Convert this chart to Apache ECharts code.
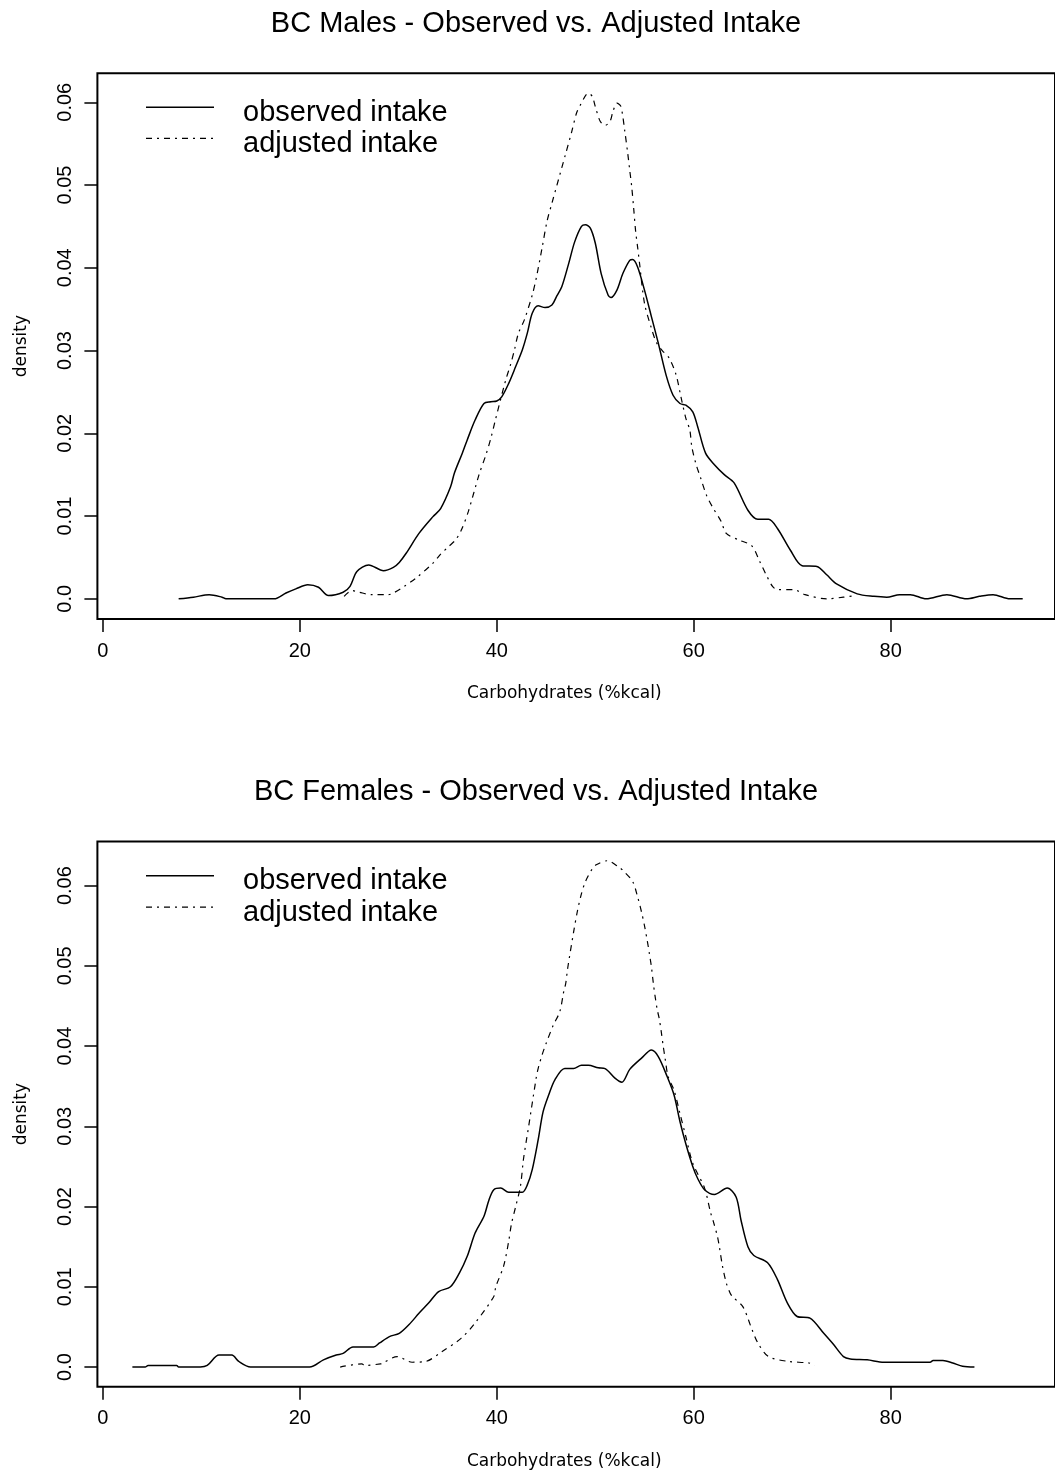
<!DOCTYPE html>
<html><head><meta charset="utf-8">
<script src="https://cdn.jsdelivr.net/npm/echarts@6/dist/echarts.min.js"></script>
<style>html,body{margin:0;padding:0;background:#fff}#c{width:1055px;height:1474px}</style>
</head><body><div id="c"></div>
<script>
const seriesNames = ['observed intake', 'adjusted intake'];
const titles = ['BC Males - Observed vs. Adjusted Intake', 'BC Females - Observed vs. Adjusted Intake'];
const xAxisTitle = 'Carbohydrates (%kcal)';
const yAxisTitle = 'density';
const xTicks = [0, 20, 40, 60, 80];
const yTicks = [0, 0.01, 0.02, 0.03, 0.04, 0.05, 0.06];

const maleObserved = [
[7.7,0],[9.2,0.0002],[10.8,0.0005],[12.1,0.0002],[12.5,0],[17.4,0],[18.6,0.0007],[19.6,0.0012],
[20.8,0.0017],[21.9,0.0014],[22.9,0.0004],[24.4,0.0008],[25.1,0.0015],[25.8,0.0033],[27.0,0.0041],
[28.5,0.0034],[29.5,0.0038],[30.1,0.0044],[30.8,0.0055],[32.1,0.0079],[33.5,0.0099],[34.3,0.0109],
[35.3,0.0135],[35.7,0.0152],[36.5,0.0176],[37.0,0.0192],[37.8,0.0216],[38.7,0.0236],[39.4,0.0238],
[40.0,0.0239],[40.5,0.0244],[41.2,0.0260],[41.9,0.0280],[42.6,0.0301],[43.1,0.0321],[43.6,0.0345],
[44.2,0.0354],[44.9,0.0352],[45.6,0.0355],[46.1,0.0366],[46.6,0.0377],[47.3,0.0405],[47.9,0.0431],
[48.6,0.0450],[49.0,0.0452],[49.5,0.0448],[50.0,0.0430],[50.6,0.0393],[51.3,0.0367],[51.6,0.0364],
[52.2,0.0373],[52.8,0.0393],[53.5,0.0409],[53.8,0.0410],[54.3,0.0401],[55.0,0.0373],[55.7,0.0341],
[56.4,0.0309],[57.2,0.0270],[57.9,0.0246],[58.6,0.0236],[59.2,0.0234],[59.9,0.0226],[60.4,0.0208],
[61.2,0.0176],[62.1,0.0162],[63.1,0.0150],[64.1,0.0140],[65.5,0.0107],[66.5,0.0096],[67.6,0.0096],
[68.5,0.0085],[69.8,0.0059],[71.0,0.0040],[72.5,0.0039],[73.5,0.0029],[74.5,0.0018],[76.6,0.0006],
[78.3,0.0003],[79.6,0.0002],[80.9,0.0005],[82.0,0.0005],[83.6,0],[85.7,0.0005],[87.7,0],
[89.0,0.0003],[90.4,0.0005],[92.1,0],[93.4,0]
];
const maleAdjusted = [
[24.5,0.0003],[25.3,0.0010],[26.0,0.0008],[27.3,0.0005],[29.0,0.0005],[29.5,0.0007],[30.6,0.0015],
[31.9,0.0026],[33.6,0.0044],[34.3,0.0054],[35.1,0.0063],[35.8,0.0071],[36.4,0.0083],[37.1,0.0105],
[38.2,0.0150],[38.9,0.0174],[39.4,0.0194],[39.9,0.0218],[40.9,0.0264],[41.4,0.0283],[41.8,0.0301],
[42.2,0.0321],[42.8,0.0337],[43.6,0.0367],[44.0,0.0387],[44.6,0.0424],[45.1,0.0456],[45.6,0.0478],
[47.0,0.0538],[47.6,0.0564],[48.1,0.0587],[48.5,0.0597],[49.3,0.0611],[49.7,0.0607],[50.0,0.0595],
[50.5,0.0577],[51.0,0.0572],[51.5,0.0577],[51.8,0.0589],[52.2,0.0599],[52.6,0.0595],[53.0,0.0565],
[53.3,0.0538],[53.5,0.0518],[53.7,0.0498],[53.9,0.0472],[54.1,0.0444],[54.3,0.0425],[54.5,0.0405],
[55.0,0.0357],[55.7,0.0327],[56.2,0.0310],[56.8,0.0300],[57.5,0.0291],[58.2,0.0271],[58.7,0.0244],
[59.2,0.0218],[59.6,0.0204],[59.8,0.0184],[60.2,0.0164],[60.7,0.0146],[61.3,0.0125],[61.9,0.0111],
[62.8,0.0093],[63.3,0.0079],[64.6,0.0071],[65.9,0.0064],[66.7,0.0045],[67.4,0.0028],[68.0,0.0015],
[68.5,0.0011],[70.2,0.0011],[71.3,0.0005],[73.5,0],[75.2,0.0002],[76.4,0.0004]
];
const femaleObserved = [
[3.0,0],[4.3,0],[4.6,0.0002],[7.5,0.0002],[7.7,0],[9.9,0],[10.6,0.0002],[11.8,0.0015],[13.1,0.0015],
[13.8,0.0007],[15.0,0],[21.0,0],[22.4,0.0009],[23.7,0.0015],[24.4,0.0017],[25.4,0.0025],[27.5,0.0025],
[28.1,0.0030],[29.1,0.0038],[30.1,0.0042],[31.1,0.0053],[32.1,0.0067],[33.1,0.0080],[34.1,0.0094],
[35.3,0.0100],[36.2,0.0117],[37.0,0.0138],[37.8,0.0167],[38.7,0.0188],[39.2,0.0208],[39.7,0.0221],
[40.4,0.0223],[41.2,0.0218],[42.6,0.0218],[43.1,0.0227],[43.6,0.0246],[44.2,0.0283],[44.7,0.0318],
[45.3,0.0340],[45.9,0.0358],[46.9,0.0372],[47.8,0.0372],[48.6,0.0376],[49.3,0.0376],[50.3,0.0373],
[51.0,0.0372],[52.0,0.0360],[52.7,0.0355],[53.5,0.0371],[54.7,0.0385],[55.7,0.0395],[56.4,0.0387],
[57.3,0.0362],[58.0,0.0339],[58.6,0.0306],[59.2,0.0278],[59.9,0.0250],[60.4,0.0235],[61.1,0.0221],
[62.1,0.0215],[63.4,0.0223],[64.3,0.0212],[64.8,0.0183],[65.5,0.0150],[66.1,0.0139],[67.5,0.0130],
[68.5,0.0109],[69.5,0.0080],[70.5,0.0063],[71.8,0.0061],[73.2,0.0042],[74.2,0.0028],[75.2,0.0013],
[75.9,0.0010],[77.6,0.0009],[79.3,0.0006],[84.0,0.0006],[84.3,0.0008],[85.3,0.0008],[86.3,0.0005],
[87.3,0.0001],[88.5,0]
];
const femaleAdjusted = [
[24.1,0],[26.3,0.0004],[26.6,0.0002],[28.2,0.0004],[28.4,0.0005],[29.9,0.0013],[31.4,0.0006],
[32.8,0.0007],[34.4,0.0019],[36.4,0.0036],[37.8,0.0055],[39.7,0.0088],[39.9,0.0100],[40.7,0.0126],
[41.2,0.0156],[41.5,0.0179],[41.9,0.0199],[42.4,0.0225],[42.7,0.0258],[43.0,0.0282],[43.2,0.0297],
[44.0,0.0360],[44.2,0.0372],[44.6,0.0389],[45.0,0.0403],[45.7,0.0425],[46.4,0.0443],[46.8,0.0468],
[47.0,0.0478],[47.2,0.0497],[47.8,0.0542],[48.2,0.0569],[48.6,0.0590],[49.0,0.0605],[49.7,0.0621],
[50.1,0.0626],[51.2,0.0631],[52.5,0.0622],[52.8,0.0619],[53.8,0.0605],[54.3,0.0586],[54.7,0.0567],
[55.0,0.0550],[55.3,0.0530],[55.5,0.0515],[55.7,0.0499],[55.9,0.0478],[56.1,0.0460],[56.3,0.0445],
[56.5,0.0434],[56.7,0.0418],[56.9,0.0400],[57.1,0.0384],[57.4,0.0362],[58.0,0.0345],[58.6,0.0316],
[59.2,0.0287],[59.9,0.0254],[61.1,0.0223],[61.7,0.0193],[62.0,0.0181],[62.4,0.0163],[62.6,0.0150],
[62.9,0.0127],[63.3,0.0105],[63.7,0.0092],[64.0,0.0087],[65.0,0.0075],[66.0,0.0044],[66.6,0.0028],
[67.6,0.0013],[69.6,0.0007],[71.7,0.0005],[72.3,0.0002]
];

const panels = [
  { obs: maleObserved, adj: maleAdjusted, top: 73.3, height: 545.7, yMin: -0.00244, yMax: 0.0635, titleTop: 4, legendLine: [107.3, 138.4] },
  { obs: femaleObserved, adj: femaleAdjusted, top: 841.5, height: 545.2, yMin: -0.00245, yMax: 0.0655, titleTop: 772, legendLine: [875.8, 907.2] }
];
const X_MIN = -0.55, X_MAX = 96.68;
const FONT = "'Liberation Sans', Arial, sans-serif";
const SMALL = "'DejaVu Sans', sans-serif";
const DASH = [6, 5, 2, 5];
const LINE_W = [1.5, 1.2];
const LINE_DASH = [null, DASH];

// legend drawn as graphic elements (sample line + label for each series)
const legendGraphics = panels.flatMap(p => seriesNames.flatMap((name, k) => [
  { type: 'line', silent: true,
    shape: { x1: 146, y1: p.legendLine[k], x2: 214, y2: p.legendLine[k] },
    style: { stroke: '#000', lineWidth: LINE_W[k], lineDash: LINE_DASH[k] } },
  { type: 'text', silent: true, x: 243, y: p.legendLine[k] + 5.5,
    style: { text: name, fill: '#000', font: "29px 'Liberation Sans', Arial, sans-serif", verticalAlign: 'middle', align: 'left' } }
]));

const chart = echarts.init(document.getElementById('c'), null, { renderer: 'canvas' });
const option = {
  backgroundColor: '#fff',
  animation: false,
  title: panels.map((p, i) => ({
    text: titles[i], left: 531, top: p.titleTop, textAlign: 'center',
    textStyle: { fontSize: 29, fontWeight: 'normal', fontFamily: FONT, color: '#000' }
  })),
  graphic: legendGraphics,
  grid: panels.map(p => ({
    left: 97.4, top: p.top, right: -5, height: p.height, show: true,
    borderColor: '#000', borderWidth: 2, backgroundColor: 'transparent', containLabel: false
  })),
  xAxis: panels.map((p, i) => ({
    type: 'value', gridIndex: i, min: X_MIN, max: X_MAX,
    axisLine: { show: false, onZero: false }, splitLine: { show: false },
    axisTick: { show: true, inside: false, customValues: xTicks, length: 13, lineStyle: { color: '#000', width: 1.5 } },
    axisLabel: { customValues: xTicks, margin: 22, color: '#000', fontSize: 20, fontFamily: FONT },
    name: xAxisTitle, nameLocation: 'middle', nameGap: 66,
    nameTextStyle: { fontSize: 17, fontFamily: SMALL, color: '#000', padding: [0, 24, 0, 0] }
  })),
  yAxis: panels.map((p, i) => ({
    type: 'value', gridIndex: i, min: p.yMin, max: p.yMax,
    axisLine: { show: false, onZero: false }, splitLine: { show: false },
    axisTick: { show: true, inside: false, customValues: yTicks, length: 13, lineStyle: { color: '#000', width: 1.5 } },
    axisLabel: { customValues: yTicks, rotate: 90, margin: 22, color: '#000', fontSize: 20, fontFamily: FONT,
      formatter: v => (Math.abs(v) < 1e-9 ? '0.0' : v.toFixed(2)) },
    name: yAxisTitle, nameLocation: 'middle', nameGap: 67,
    nameTextStyle: { fontSize: 17, fontFamily: SMALL, color: '#000' }
  })),
  series: panels.flatMap((p, i) => [
    { name: seriesNames[0], type: 'line', xAxisIndex: i, yAxisIndex: i, data: p.obs,
      symbol: 'none', showSymbol: false, smooth: 0.3,
      lineStyle: { color: '#000', width: LINE_W[0], type: 'solid' }, itemStyle: { color: '#000' } },
    { name: seriesNames[1], type: 'line', xAxisIndex: i, yAxisIndex: i, data: p.adj,
      symbol: 'none', showSymbol: false, smooth: 0.3,
      lineStyle: { color: '#000', width: LINE_W[1], type: DASH }, itemStyle: { color: '#000' } }
  ])
};
chart.setOption(option);
</script>
</body></html>
